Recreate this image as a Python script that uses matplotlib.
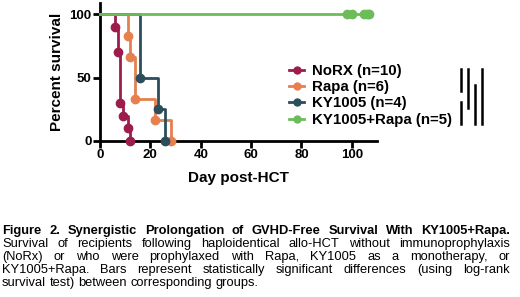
import matplotlib
matplotlib.use("Agg")
import matplotlib.pyplot as plt
from matplotlib.lines import Line2D

plt.rcParams['font.family'] = ['Liberation Sans', 'DejaVu Sans']

# Kaplan-Meier steps (day, percent survival)
norx_days = [0, 6, 7, 8, 9, 11, 12]
norx_surv = [100, 90, 70, 30, 20, 10, 0]
rapa_days = [0, 11, 12, 14, 22, 28]
rapa_surv = [100, 83.3, 66.7, 33.3, 16.7, 0]
ky_days = [0, 16, 23, 26]
ky_surv = [100, 50, 25, 0]
combo_days = [0, 107]
combo_surv = [100, 100]
combo_censored = [98, 100, 105, 106, 107]

labels = ["NoRX (n=10)", "Rapa (n=6)", "KY1005 (n=4)", "KY1005+Rapa (n=5)"]
colors = ["#9c1d4c", "#e6804e", "#2c4e5c", "#6cbd5a"]

# significance bars: one column each, pairs of legend rows
sig_columns = [[(0, 1), (2, 3)], [(0, 2)], [(1, 3)], [(0, 3)]]

caption_lines = [
    "Figure 2. Synergistic Prolongation of GVHD-Free Survival With KY1005+Rapa.",
    "Survival of recipients following haploidentical allo-HCT without immunoprophylaxis",
    "(NoRx) or who were prophylaxed with Rapa, KY1005 as a monotherapy, or",
    "KY1005+Rapa. Bars represent statistically significant differences (using log-rank",
    "survival test) between corresponding groups.",
]

W, H = 520, 297
fig = plt.figure(figsize=(W / 100, H / 100), dpi=100)
ax = fig.add_axes([100 / W, 1 - 141 / H, 277 / W, 138 / H])

curves = [(norx_days, norx_surv), (rapa_days, rapa_surv), (ky_days, ky_surv)]
for (d, s), c in zip(curves, colors[:3]):
    ax.step(d, s, where="post", color=c, lw=2, clip_on=False, zorder=3)
    ax.plot(d[1:], s[1:], "o", color=c, ms=6, clip_on=False, zorder=4)
ax.plot(combo_days, combo_surv, color=colors[3], lw=2, clip_on=False, zorder=3)
ax.plot(combo_censored, [100] * len(combo_censored), "o", color=colors[3],
        ms=6, clip_on=False, zorder=4)

ax.set_xlim(0, 110)
ax.set_ylim(0, 109)
ax.set_xticks([0, 20, 40, 60, 80, 100])
ax.set_yticks([0, 50, 100])
for sp in ["top", "right"]:
    ax.spines[sp].set_visible(False)
for sp in ["left", "bottom"]:
    ax.spines[sp].set_linewidth(2)
ax.tick_params(width=2, length=5, labelsize=9.5, pad=1)
for t in ax.get_xticklabels() + ax.get_yticklabels():
    t.set_fontweight("bold")
ax.set_xlabel("Day post-HCT", fontsize=11, fontweight="bold", labelpad=7)
ax.set_ylabel("Percent survival", fontsize=11, fontweight="bold", labelpad=4)

handles = [Line2D([], [], color=c, lw=2, marker="o", ms=5) for c in colors]
leg = fig.legend(handles, labels, loc="upper left", bbox_to_anchor=(289 / W, 1 - 64 / H),
                 frameon=False, prop={"weight": "bold", "size": 10.8},
                 handlelength=1.0, handletextpad=0.55, labelspacing=0.15,
                 borderpad=0, borderaxespad=0)

fig.canvas.draw()
r = fig.canvas.get_renderer()

# significance bars next to the legend rows
rows = []
for t in leg.get_texts():
    bb = t.get_window_extent(r)
    rows.append((bb.y0 + bb.y1) / 2)
col_x = [461, 468, 475, 482]
for x, pairs in zip(col_x, sig_columns):
    for i, j in pairs:
        fig.add_artist(Line2D([x / W, x / W], [(rows[i] + 2) / H, (rows[j] - 4) / H],
                              color="black", lw=1.8, transform=fig.transFigure))

# justified caption
fs = 9.3
x0, x1 = 2, 510
ys = [231, 244, 257, 270, 283]
for k, (line, y) in enumerate(zip(caption_lines, ys)):
    weight = "bold" if k == 0 else "normal"
    words = line.split(" ")
    texts = [fig.text(0, 1 - y / H, w, fontsize=fs, fontweight=weight, va="center")
             for w in words]
    widths = [t.get_window_extent(r).width for t in texts]
    if k == len(caption_lines) - 1:
        gap = fs * 100 / 72 * 0.278
    else:
        gap = (x1 - x0 - sum(widths)) / (len(words) - 1)
    x = x0
    for t, w in zip(texts, widths):
        t.set_x(x / W)
        x += w + gap

fig.savefig("out.png", dpi=100)
